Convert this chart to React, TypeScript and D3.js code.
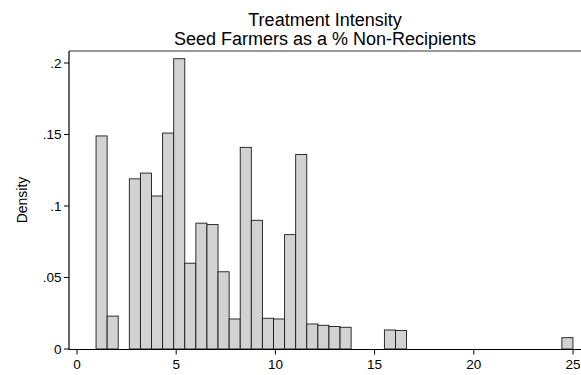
import React from "react";
import * as d3 from "d3";

const binStart = 0.96;
const binWidth = 0.559;
const densities = [
  0.149, 0.023, 0, 0.119, 0.123, 0.107, 0.151, 0.203, 0.06, 0.088, 0.087,
  0.054, 0.021, 0.141, 0.09, 0.0215, 0.021, 0.08, 0.136, 0.0175, 0.0166,
  0.0157, 0.0152, 0, 0, 0, 0.0133, 0.0129, 0, 0, 0, 0, 0, 0, 0, 0, 0, 0, 0,
  0, 0, 0, 0.0079,
];
const xTicks = [0, 5, 10, 15, 20, 25];
const yTicks = [0, 0.05, 0.1, 0.15, 0.2];
const yTickLabels = ["0", ".05", ".1", ".15", ".2"];
const titleLines = ["Treatment Intensity", "Seed Farmers as a % Non-Recipients"];

export default function App() {
  const W = 581, H = 375;
  const x = d3.scaleLinear().domain([0, 25]).range([77, 573]);
  const y = d3.scaleLinear().domain([0, 0.2]).range([349, 63]);
  const font = "'Liberation Sans', Arial, Helvetica, sans-serif";
  const bins = densities.map((d, i) => ({
    x0: binStart + i * binWidth,
    x1: binStart + (i + 1) * binWidth,
    d,
  }));
  return (
    <svg
      width={W}
      height={H}
      style={{ position: "absolute", left: 0, top: 0, background: "#fff" }}
      fontFamily={font}
    >
      <rect x={0} y={0} width={W} height={H} fill="#fff" />
      {titleLines.map((t, i) => (
        <text key={i} x={325} y={26 + i * 19} textAnchor="middle" fontSize={18} fill="#000">
          {t}
        </text>
      ))}
      <line x1={69} x2={W} y1={51} y2={51} stroke="#777" strokeWidth={1.5} />
      {bins
        .filter((b) => b.d > 0)
        .map((b, i) => (
          <rect
            key={i}
            x={x(b.x0)}
            y={y(b.d)}
            width={x(b.x1) - x(b.x0)}
            height={y(0) - y(b.d)}
            fill="#d2d2d2"
            stroke="#1a1a1a"
            strokeWidth={0.9}
          />
        ))}
      <line x1={69} x2={69} y1={51} y2={349.5} stroke="#000" strokeWidth={1.2} />
      <line x1={69} x2={W} y1={349.5} y2={349.5} stroke="#000" strokeWidth={1.2} />
      {yTicks.map((t, i) => (
        <g key={i}>
          <line x1={64} x2={69} y1={y(t)} y2={y(t)} stroke="#000" strokeWidth={1} />
          <text x={61.5} y={y(t)} dy="0.36em" textAnchor="end" fontSize={13.5} fill="#000">
            {yTickLabels[i]}
          </text>
        </g>
      ))}
      {xTicks.map((t, i) => (
        <g key={i}>
          <line x1={x(t)} x2={x(t)} y1={349.5} y2={354.5} stroke="#000" strokeWidth={1} />
          <text x={x(t)} y={369} textAnchor="middle" fontSize={13.5} fill="#000">
            {t}
          </text>
        </g>
      ))}
      <text
        transform={`translate(27,200) rotate(-90)`}
        textAnchor="middle"
        fontSize={14}
        fill="#000"
      >
        Density
      </text>
    </svg>
  );
}
